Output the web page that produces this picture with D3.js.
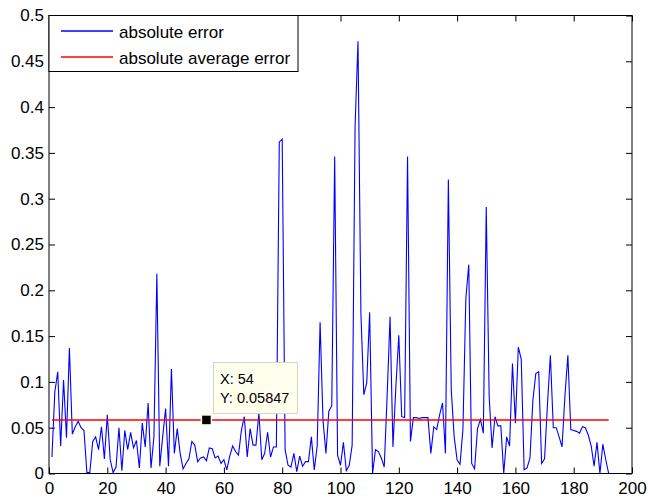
<!DOCTYPE html>
<html>
<head>
<meta charset="utf-8">
<script src="https://cdn.jsdelivr.net/npm/d3@7"></script>
<style>
  body { margin: 0; background: #fff; }
  svg { display: block; font-family: "Liberation Sans", Arial, Helvetica, sans-serif; }
</style>
</head>
<body>
<div id="chart"></div>
<script>
// absolute error per sample
var errValues = [
  0.018, 0.089, 0.111, 0.030, 0.102, 0.039, 0.137, 0.043, 0.051, 0.057,
  0.050, 0.047, 0.001, 0.001, 0.035, 0.040, 0.026, 0.051, 0.016, 0.064,
  0.015, 0.001, 0.007, 0.050, 0.003, 0.047, 0.026, 0.045, 0.028, 0.036,
  0.006, 0.055, 0.029, 0.077, 0.006, 0.040, 0.218, 0.008, 0.040, 0.071,
  0.008, 0.114, 0.022, 0.049, 0.022, 0.005, 0.011, 0.016, 0.035, 0.031,
  0.013, 0.017, 0.018, 0.014, 0.028, 0.027, 0.017, 0.019, 0.011, 0.015,
  0.004, 0.019, 0.030, 0.024, 0.020, 0.047, 0.062, 0.018, 0.049, 0.031,
  0.031, 0.066, 0.015, 0.022, 0.045, 0.018, 0.029, 0.029, 0.362, 0.365,
  0.026, 0.009, 0.007, 0.022, 0.002, 0.019, 0.008, 0.013, 0.013, 0.040,
  0.004, 0.030, 0.165, 0.058, 0.022, 0.068, 0.074, 0.346, 0.020, 0.009,
  0.034, 0.003, 0.009, 0.031, 0.379, 0.472, 0.175, 0.086, 0.099, 0.176,
  0.000, 0.026, 0.024, 0.017, 0.007, 0.085, 0.171, 0.029, 0.095, 0.151,
  0.062, 0.061, 0.346, 0.035, 0.061, 0.061, 0.060, 0.061, 0.061, 0.061,
  0.022, 0.051, 0.048, 0.064, 0.077, 0.022, 0.321, 0.091, 0.040, 0.015,
  0.010, 0.048, 0.191, 0.228, 0.011, 0.005, 0.049, 0.059, 0.044, 0.291,
  0.084, 0.028, 0.062, 0.052, 0.052, 0.000, 0.040, 0.030, 0.120, 0.055,
  0.138, 0.125, 0.004, 0.006, 0.017, 0.080, 0.109, 0.111, 0.011, 0.016,
  0.075, 0.129, 0.050, 0.050, 0.040, 0.029, 0.085, 0.129, 0.048, 0.047,
  0.046, 0.044, 0.051, 0.050, 0.042, 0.030, 0.008, 0.034, 0.000, 0.032,
  0.015, 0.000
];
var sampleIdx = d3.range(1, errValues.length + 1);
var avgError = 0.05847;
var cursorX = 54;

var xTicks = [0, 20, 40, 60, 80, 100, 120, 140, 160, 180, 200];
var yTicks = [0, 0.05, 0.1, 0.15, 0.2, 0.25, 0.3, 0.35, 0.4, 0.45, 0.5];
var legendLabels = ["absolute error", "absolute average error"];
var legendColors = ["#0000ff", "#ff0000"];

var W = 648, H = 498;
var pLeft = 49, pRight = 632, pTop = 15.5, pBottom = 473.5;

var svg = d3.select("#chart").append("svg")
    .attr("width", W)
    .attr("height", H);

svg.append("rect").attr("width", W).attr("height", H).attr("fill", "#fff");

var x = d3.scaleLinear().domain([0, 200]).range([pLeft, pRight]);
var y = d3.scaleLinear().domain([0, 0.5]).range([pBottom, pTop]);

// axes, ticks pointing inward like matlab
function styleAxis(g) {
  g.select(".domain").remove();
  g.selectAll(".tick line").attr("stroke", "#000");
  g.selectAll("text").attr("fill", "#000").style("font-size", "17px");
}

svg.append("g")
    .attr("transform", "translate(0," + pBottom + ")")
    .call(d3.axisBottom(x).tickValues(xTicks).tickSizeInner(-6).tickSizeOuter(0).tickPadding(8))
    .call(styleAxis);

svg.append("g")
    .attr("transform", "translate(0," + pTop + ")")
    .call(d3.axisTop(x).tickValues(xTicks).tickSizeInner(-6).tickSizeOuter(0).tickFormat(""))
    .call(styleAxis);

svg.append("g")
    .attr("transform", "translate(" + pLeft + ",0)")
    .call(d3.axisLeft(y).tickValues(yTicks).tickSizeInner(-6).tickSizeOuter(0).tickPadding(5)
      .tickFormat(function(d) { return String(+d.toFixed(2)); }))
    .call(styleAxis);

svg.append("g")
    .attr("transform", "translate(" + pRight + ",0)")
    .call(d3.axisRight(y).tickValues(yTicks).tickSizeInner(-6).tickSizeOuter(0).tickFormat(""))
    .call(styleAxis);

// the error line
var line = d3.line()
    .x(function(d, i) { return x(sampleIdx[i]); })
    .y(function(d) { return y(d); });

svg.append("path")
    .datum(errValues)
    .attr("d", line)
    .attr("fill", "none")
    .attr("stroke", "#0000ff")
    .attr("stroke-width", 1.1)
    .attr("stroke-linejoin", "miter");

// average
svg.append("line")
    .attr("x1", x(sampleIdx[0]))
    .attr("x2", x(sampleIdx[sampleIdx.length - 1]))
    .attr("y1", y(avgError))
    .attr("y2", y(avgError))
    .attr("stroke", "#ff0000")
    .attr("stroke-width", 1.5);

// box
svg.append("rect")
    .attr("x", pLeft).attr("y", pTop)
    .attr("width", pRight - pLeft).attr("height", pBottom - pTop)
    .attr("fill", "none").attr("stroke", "#000").attr("stroke-width", 1);

// legend
var lg = svg.append("g");
lg.append("rect")
    .attr("x", pLeft).attr("y", pTop)
    .attr("width", 249).attr("height", 56)
    .attr("fill", "#fff").attr("stroke", "#000").attr("stroke-width", 1);

legendLabels.forEach(function(lab, i) {
  var yy = 31 + i * 26;
  lg.append("line")
      .attr("x1", 61).attr("x2", 113)
      .attr("y1", yy).attr("y2", yy)
      .attr("stroke", legendColors[i]).attr("stroke-width", 1.5);
  lg.append("text")
      .attr("x", 119).attr("y", yy + 6.5)
      .style("font-size", "17px")
      .text(lab);
});

// data cursor
var cx = x(cursorX), cy = y(avgError);
svg.append("rect")
    .attr("x", cx - 5).attr("y", cy - 5)
    .attr("width", 10).attr("height", 10)
    .attr("fill", "#000")
    .attr("stroke", "#ffffd8").attr("stroke-width", 1.5);

var tip = svg.append("g");
tip.append("rect")
    .attr("x", 213.5).attr("y", 362.5)
    .attr("width", 84).attr("height", 51)
    .attr("fill", "#ffffee")
    .attr("stroke", "#d6d6c8").attr("stroke-width", 1);
tip.append("text")
    .attr("x", 220).attr("y", 383.5)
    .style("font-size", "14.5px")
    .text("X: " + cursorX);
tip.append("text")
    .attr("x", 220).attr("y", 402.7)
    .style("font-size", "14.5px")
    .text("Y: " + avgError);
</script>
</body>
</html>
